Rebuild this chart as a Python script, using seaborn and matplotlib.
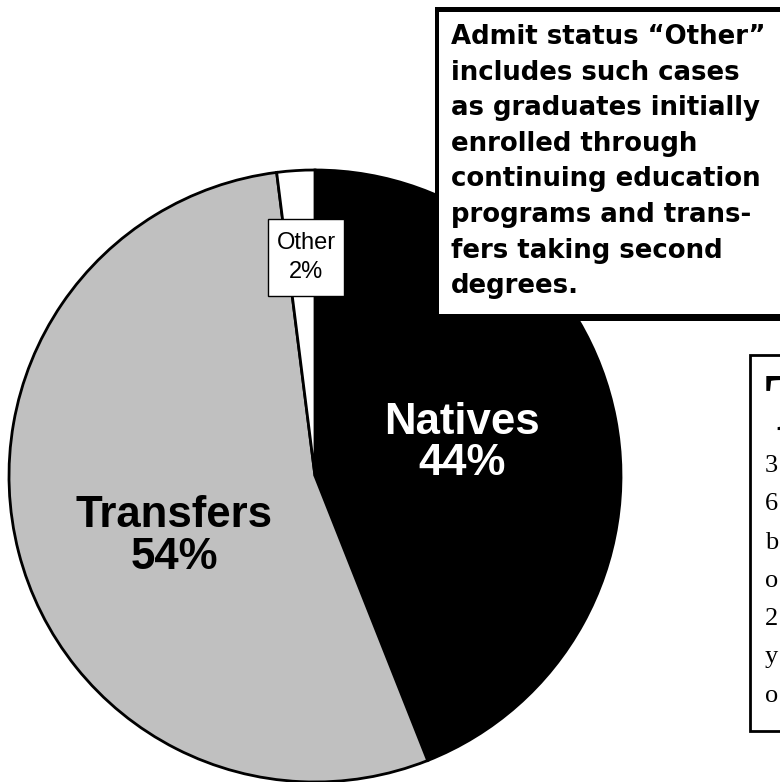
import matplotlib
matplotlib.use("Agg")
import matplotlib.pyplot as plt
import seaborn as sns
from matplotlib.patches import Rectangle

# ---- data ----
categories = ["Natives", "Transfers", "Other"]
shares = [44, 54, 2]
colors = ["#000000", "#c0c0c0", "#ffffff"]
note_lines = [
    "Admit status \u201cOther\u201d",
    "includes such cases",
    "as graduates initially",
    "enrolled through",
    "continuing education",
    "programs and trans-",
    "fers taking second",
    "degrees.",
]
side_initial = "T"
side_lines = ["3", "6", "b", "o", "2", "y", "o"]

sns.set_theme(style="white")
plt.rcParams["font.family"] = ["Liberation Sans", "DejaVu Sans"]

W, H = 780, 782
fig = plt.figure(figsize=(7.8, 7.82), dpi=100)
fig.patch.set_facecolor("white")
ax = fig.add_axes([0, 0, 1, 1])

# pie (y axis is inverted afterwards, so startangle 270 + counterclock gives clockwise from top)
cx, cy, R = 315, 476, 306
ax.pie(shares, colors=colors, startangle=270, counterclock=True,
       center=(cx, cy), radius=R,
       wedgeprops=dict(edgecolor="black", linewidth=2.0))
ax.set_xlim(0, W)
ax.set_ylim(H, 0)
ax.set_aspect("auto")
ax.axis("off")

# slice labels
ax.text(462, 434, categories[0], ha="center", va="baseline", color="white",
        fontsize=31.5, fontweight="bold", family="Liberation Sans", zorder=5)
ax.text(462, 475, f"{shares[0]}%", ha="center", va="baseline", color="white",
        fontsize=31.5, fontweight="bold", family="Liberation Sans", zorder=5)
ax.text(174, 527, categories[1], ha="center", va="baseline", color="black",
        fontsize=31.5, fontweight="bold", family="Liberation Sans", zorder=5)
ax.text(174, 569, f"{shares[1]}%", ha="center", va="baseline", color="black",
        fontsize=31.5, fontweight="bold", family="Liberation Sans", zorder=5)

# "Other" boxed label
ax.add_patch(Rectangle((268, 219), 76, 77, facecolor="white", edgecolor="black",
                       linewidth=1.0, zorder=4))
ax.text(306, 249, categories[2], ha="center", va="baseline", color="black",
        fontsize=17, family="Liberation Sans", zorder=5)
ax.text(306, 278, f"{shares[2]}%", ha="center", va="baseline", color="black",
        fontsize=17, family="Liberation Sans", zorder=5)

# callout box with shadow
ax.add_patch(Rectangle((435, 7), 400, 314, facecolor="black", edgecolor="none", zorder=6))
ax.add_patch(Rectangle((439, 12), 400, 302, facecolor="white", edgecolor="none", zorder=7))
for i, line in enumerate(note_lines):
    ax.text(451, 44 + i * 35.6, line, ha="left", va="baseline", color="black",
            fontsize=18.7, fontweight="bold", family="DejaVu Sans", zorder=8)

# partially visible side box (cut by the right edge, as in the original)
ax.add_patch(Rectangle((750, 355), 100, 376, facecolor="white", edgecolor="black",
                       linewidth=2.0, zorder=6))
ax.text(765, 373, side_initial, ha="left", va="top", color="black",
        fontsize=60, fontweight="bold", family="Liberation Serif", zorder=8)
for i, s in enumerate(side_lines):
    ax.text(765, 472 + i * 38.3, s, ha="left", va="baseline", color="black",
            fontsize=19, family="Liberation Serif", zorder=8)

fig.savefig("out.png", dpi=100, facecolor="white")
